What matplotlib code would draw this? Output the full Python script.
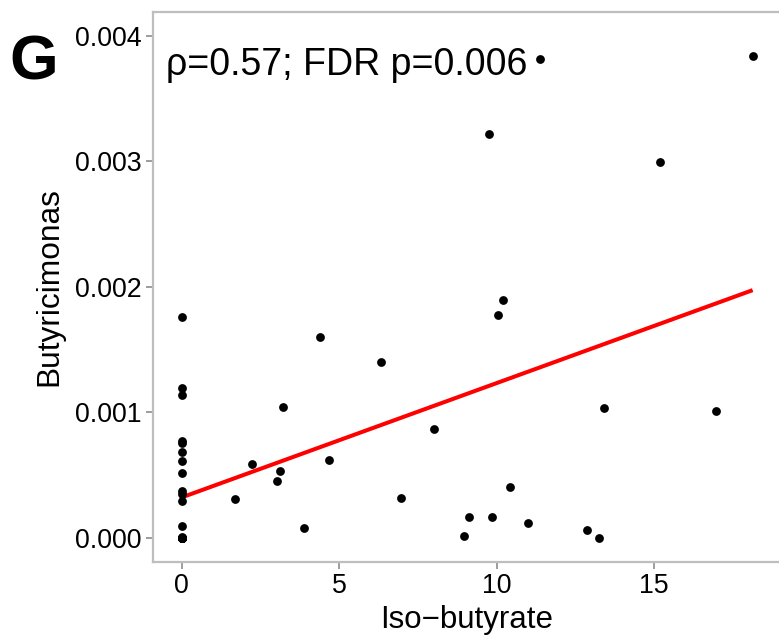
import numpy as np
import matplotlib
matplotlib.use("Agg")
import matplotlib.pyplot as plt

# Iso-butyrate concentration vs. Butyricimonas relative abundance
# (samples with neither compound nor taxon detected sit stacked at the origin)
iso_butyrate = [
    0, 0, 0, 0, 0, 0, 0, 0, 0, 0, 0, 0, 0, 0, 0, 0,
    0, 0, 0, 0, 0, 0, 0, 0,
    1.71, 2.25, 3.02, 3.14, 3.23, 3.89, 4.40, 4.68, 6.33, 6.97,
    8.03, 8.97, 9.13, 9.77, 9.84, 10.05, 10.19, 10.42, 11.00, 11.38,
    12.88, 13.24, 13.42, 15.19, 16.96, 18.13,
]
butyricimonas = [
    0.001758, 0.001194, 0.001142, 0.000776, 0.000754, 0.000688, 0.000610, 0.000514,
    0.000370, 0.000350, 0.000294, 0.000096, 0.000010, 0.000000, 0.000000, 0.000000,
    0.000000, 0.000000, 0.000000, 0.000000, 0.000000, 0.000000, 0.000000, 0.000000,
    0.000310, 0.000590, 0.000456, 0.000530, 0.001042, 0.000082, 0.001598, 0.000622,
    0.001398, 0.000314, 0.000864, 0.000016, 0.000170, 0.003218, 0.000168, 0.001776,
    0.001894, 0.000402, 0.000118, 0.003816, 0.000066, 0.000002, 0.001034, 0.002998,
    0.001014, 0.003842,
]
x_ticks = [0, 5, 10, 15]
y_ticks = [0.000, 0.001, 0.002, 0.003, 0.004]
y_tick_labels = ["0.000", "0.001", "0.002", "0.003", "0.004"]
annotation = "ρ=0.57; FDR p=0.006"
panel_tag = "G"

plt.rcParams["font.family"] = ["Liberation Sans", "DejaVu Sans"]

W, H = 779, 635
fig = plt.figure(figsize=(W / 100, H / 100), dpi=100)
left, right, top, bottom = 153, 781, 12, 562
ax = fig.add_axes([left / W, 1 - bottom / H, (right - left) / W, (bottom - top) / H])

x = np.asarray(iso_butyrate)
y = np.asarray(butyricimonas)

ax.scatter(x, y, s=40, color="black", linewidths=0, zorder=3)

# least-squares fit line across the observed x range
slope, intercept = np.polyfit(x, y, 1)
xs = np.array([x.min(), x.max()])
ax.plot(xs, intercept + slope * xs, color="#FF0000", lw=2.9, zorder=2,
        solid_capstyle="butt")

ax.set_xlim(-0.906, 19.03)
ax.set_ylim(-0.000192, 0.00419)
ax.set_xticks(x_ticks)
ax.set_yticks(y_ticks)
ax.set_yticklabels(y_tick_labels)

grey = "#BEBEBE"
for side in ("left", "top", "bottom"):
    ax.spines[side].set_color(grey)
    ax.spines[side].set_linewidth(1.6)
ax.spines["right"].set_visible(False)
ax.tick_params(axis="both", color="#8C8C8C", length=5, width=1.2,
               labelsize=19.3, labelcolor="black", pad=3)

ax.set_xlabel("Iso\u2212butyrate", fontsize=22.5, labelpad=4)
ax.set_ylabel("Butyricimonas", fontsize=22.8, labelpad=8)

ax.text(-0.5, 0.003768, annotation, fontsize=27, ha="left", va="center")
fig.text(9 / W, 1 - 63 / H, panel_tag, fontsize=45, fontweight="bold",
         ha="left", va="center")

fig.savefig("out.png", dpi=100)
